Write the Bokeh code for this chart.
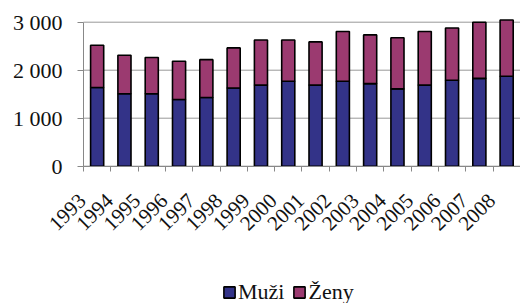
import math
from bokeh.plotting import figure
from bokeh.models import (ColumnDataSource, Range1d, FixedTicker, LinearAxis, Legend)
from bokeh.embed import file_html
from bokeh.resources import INLINE

years = [1993, 1994, 1995, 1996, 1997, 1998, 1999, 2000,
         2001, 2002, 2003, 2004, 2005, 2006, 2007, 2008]
year_labels = [str(y) for y in years]
muzi = [1640, 1510, 1510, 1390, 1430, 1630, 1690, 1770,
        1690, 1770, 1720, 1610, 1690, 1790, 1830, 1875]
totals = [2520, 2310, 2265, 2185, 2220, 2465, 2630, 2630,
          2590, 2805, 2735, 2675, 2805, 2880, 3000, 3045]
zeny = [t - m for t, m in zip(totals, muzi)]
series_names = ["Muži", "Ženy"]
y_ticks = [0, 1000, 2000, 3000]
y_tick_labels = ["0", "1 000", "2 000", "3 000"]

FONT = "Liberation Serif"
C_MUZI = "#333388"
C_ZENY = "#9b3a70"

W, H = 520, 303
AXIS_X_PX = 83.0        # pixel position of the value axis
ZERO_PX = 165.7         # pixel position of value 0
PX_PER_X = 27.3
PX_PER_1000 = 48.0
XA = 1992.5             # left edge of the category area
X0 = XA - AXIS_X_PX / PX_PER_X
X1 = X0 + W / PX_PER_X
Y1 = ZERO_PX / PX_PER_1000 * 1000
Y0 = -(H - ZERO_PX) / PX_PER_1000 * 1000
LABEL_SHIFT = 15 / PX_PER_X

source = ColumnDataSource(dict(year=years, muzi=muzi, zeny=zeny))
grid_src = ColumnDataSource(dict(y=y_ticks, x0=[XA] * len(y_ticks),
                                 x1=[X1] * len(y_ticks)))

p = figure(width=W, height=H, output_backend="svg", toolbar_location=None,
           x_range=Range1d(X0, X1), y_range=Range1d(Y0, Y1),
           min_border_left=0, min_border_right=0, min_border_top=0,
           min_border_bottom=0)
p.extra_x_ranges = {"lab": Range1d(X0 + LABEL_SHIFT, X1 + LABEL_SHIFT)}
p.outline_line_color = None
p.xgrid.visible = False
p.ygrid.visible = False

# horizontal gridlines (only across the plot area)
p.segment(x0="x0", x1="x1", y0="y", y1="y", source=grid_src,
          line_color="#999999", line_width=1)

r = p.vbar_stack(["muzi", "zeny"], x="year", width=0.48, source=source,
                 color=[C_MUZI, C_ZENY], line_color="black", line_width=1.6)

# y axis
p.yaxis.fixed_location = XA
p.yaxis.ticker = FixedTicker(ticks=y_ticks)
p.yaxis.bounds = (0, 3000)
p.yaxis.major_label_overrides = {t: l for t, l in zip(y_ticks, y_tick_labels)}
p.yaxis.axis_line_color = "#888888"
p.yaxis.major_tick_line_color = "#888888"
p.yaxis.major_tick_out = 6
p.yaxis.major_tick_in = 0
p.yaxis.minor_tick_line_color = None
p.yaxis.major_label_text_font = FONT
p.yaxis.major_label_text_font_size = "22px"
p.yaxis.major_label_text_color = "#111111"
p.yaxis.major_label_standoff = 15

# x axis: ticks at category boundaries, drawn at y = 0
p.xaxis.fixed_location = 0
p.xaxis.bounds = (XA, X1)
p.xaxis.ticker = FixedTicker(ticks=[y - 0.5 for y in years] + [years[-1] + 0.5])
p.xaxis.major_label_overrides = {y - 0.5: "" for y in years + [years[-1] + 1]}
p.xaxis.major_label_standoff = 0
p.xaxis.axis_line_color = "#888888"
p.xaxis.major_tick_line_color = "#888888"
p.xaxis.major_tick_out = 5
p.xaxis.major_tick_in = 0
p.xaxis.minor_tick_line_color = None

# year labels (offset left of the bar centres, like the original)
lab_axis = LinearAxis(x_range_name="lab", fixed_location=0,
                      ticker=FixedTicker(ticks=years),
                      major_label_overrides={y: l for y, l in zip(years, year_labels)},
                      major_label_orientation=math.pi / 4,
                      major_label_text_font=FONT, major_label_text_font_size="21px",
                      major_label_text_color="#111111", major_label_standoff=31,
                      axis_line_color=None, major_tick_line_color=None,
                      major_tick_out=0, minor_tick_line_color=None)
p.add_layout(lab_axis, "below")

legend = Legend(items=[(series_names[0], [r[0]]), (series_names[1], [r[1]])],
                location=(222, -2), orientation="horizontal",
                label_text_font=FONT, label_text_font_size="22px",
                label_text_color="#111111",
                glyph_width=14, glyph_height=14, label_standoff=2,
                spacing=8, padding=0, margin=0,
                border_line_color=None, background_fill_alpha=0)
p.add_layout(legend, "center")

open("out.html", "w").write(file_html(p, INLINE))
